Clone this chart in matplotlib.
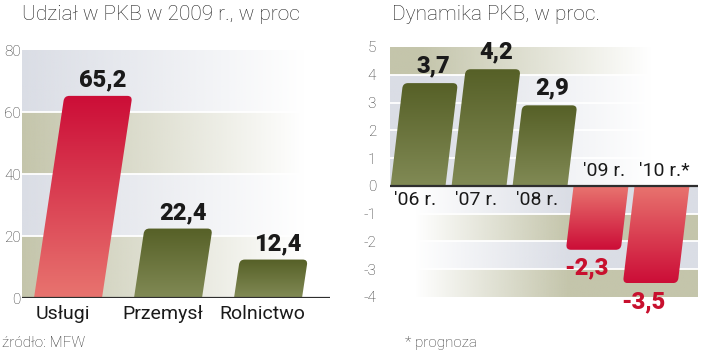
import numpy as np
import matplotlib
matplotlib.use('Agg')
import matplotlib.pyplot as plt
from matplotlib.path import Path
from matplotlib.patches import PathPatch
from matplotlib.transforms import Affine2D
from matplotlib.colors import to_rgb

# ---- data ----
left_title = 'Udział w PKB w 2009 r., w proc'
left_categories = ['Usługi', 'Przemysł', 'Rolnictwo']
left_values = [65.2, 22.4, 12.4]
left_labels = ['65,2', '22,4', '12,4']
left_yticks = [0, 20, 40, 60, 80]

right_title = 'Dynamika PKB, w proc.'
right_categories = ["'06 r.", "'07 r.", "'08 r.", "'09 r.", "'10 r.*"]
right_values = [3.7, 4.2, 2.9, -2.3, -3.5]
right_labels = ['3,7', '4,2', '2,9', '-2,3', '-3,5']
right_yticks = [-4, -3, -2, -1, 0, 1, 2, 3, 4, 5]

source_text = 'źródło: MFW'
note_text = '* prognoza'

# ---- style ----
plt.rcParams['font.family'] = ['Roboto', 'DejaVu Sans']
KHAKI = '#c4c5ab'
GRAY = '#dadde5'
RED_BASE, RED_TIP = '#e8746f', '#cc0d37'
GRN_BASE, GRN_TIP = '#818a55', '#566027'
TXT = '#1a1a1a'
RED_TXT = '#c8102e'

W, H = 720, 356
fig = plt.figure(figsize=(7.2, 3.56), dpi=100)
fig.patch.set_facecolor('white')

axL = fig.add_axes([22 / W, 58 / H, 308 / W, 248 / H])
axR = fig.add_axes([390 / W, 59 / H, 308 / W, 250 / H])


def setup(ax, xlim, ylim):
    ax.set_xlim(*xlim)
    ax.set_ylim(*ylim)
    ax.set_autoscale_on(False)
    for s in ax.spines.values():
        s.set_visible(False)
    ax.set_facecolor('none')


def band(ax, y0, y1, color, alpha_fn):
    xl = ax.get_xlim()
    t = np.linspace(0, 1, 300)
    rgba = np.zeros((1, 300, 4))
    rgba[..., :3] = to_rgb(color)
    rgba[..., 3] = np.clip(alpha_fn(t), 0, 1)
    ax.imshow(rgba, extent=(xl[0], xl[1], y0, y1), aspect='auto',
              interpolation='bilinear', zorder=0)


def slanted_bars(ax, xs, vals, width, slant, colors, radius_px=5):
    rects = ax.bar(xs, vals, width=width, color='none', edgecolor='none')
    x0d, y0d = ax.transData.transform((0, 0))
    ppx = ax.transData.transform((1, 0))[0] - x0d
    ppy = ax.transData.transform((0, 1))[1] - y0d
    skew = (Affine2D().translate(-x0d, -y0d)
            .skew(np.arctan(slant), 0).translate(x0d, y0d))
    trans = ax.transData + skew
    rx = radius_px / ppx
    ry = radius_px / ppy
    tips = []
    for r, (base, tip) in zip(rects, colors):
        x = r.get_x(); w = r.get_width(); h = r.get_height()
        s = np.sign(h)
        verts = [(x, 0), (x + w, 0), (x + w, h - s * ry), (x + w, h),
                 (x + w - rx, h), (x + rx, h), (x, h), (x, h - s * ry), (x, 0)]
        codes = [Path.MOVETO, Path.LINETO, Path.LINETO, Path.CURVE3,
                 Path.CURVE3, Path.LINETO, Path.CURVE3, Path.CURVE3,
                 Path.CLOSEPOLY]
        patch = PathPatch(Path(verts, codes), facecolor='none',
                          edgecolor='none', transform=trans, zorder=2)
        ax.add_patch(patch)
        n = 256
        t = np.linspace(0, 1, n)[:, None, None]
        img = np.array(to_rgb(base))[None, None, :] * (1 - t) + \
            np.array(to_rgb(tip))[None, None, :] * t
        shift = slant * abs(h) * ppy / ppx + 0.1
        im = ax.imshow(img, extent=(x - shift - 0.1, x + w + shift + 0.1, 0, h),
                       origin='lower', aspect='auto', interpolation='bilinear',
                       zorder=2)
        im.set_clip_path(patch)
        xtip = x + w / 2 + slant * h * ppy / ppx
        tips.append((xtip, h))
    return tips


# ---------------- left panel ----------------
setup(axL, (-0.46, 2.62), (0, 80))
band_cols_L = [KHAKI, GRAY, KHAKI, GRAY]
for i in range(4):
    band(axL, left_yticks[i], left_yticks[i + 1], band_cols_L[i],
         lambda t: 1.0 - t / 0.92)
for y in left_yticks[1:-1]:
    axL.axhline(y, color='white', lw=1.3, zorder=1)
xsL = np.arange(len(left_values))
colsL = [(RED_BASE, RED_TIP)] + [(GRN_BASE, GRN_TIP)] * 2
tipsL = slanted_bars(axL, xsL, left_values, 0.68, 0.15, colsL)
axL.axhline(0, color='#2e2e2e', lw=1.6, zorder=3)
for (xt, h), lab in zip(tipsL, left_labels):
    axL.annotate(lab, (xt, h), xytext=(3, 3), textcoords='offset points',
                 ha='center', va='bottom', fontsize=17, fontweight='black',
                 color=TXT, zorder=4)
for x, cat in zip(xsL, left_categories):
    axL.annotate(cat, (x, 0), xytext=(-4, -5), textcoords='offset points',
                 ha='center', va='top', fontsize=14, color=TXT)
axL.set_xticks([])
axL.set_yticks(left_yticks)
axL.set_yticklabels([str(v) for v in left_yticks], fontsize=11,
                    fontweight='light', color='#333333')
axL.tick_params(axis='y', length=0, pad=1)

# ---------------- right panel ----------------
setup(axR, (-0.46, 4.59), (-4, 5))
for lo in range(0, 5):
    col = KHAKI if lo == 4 else GRAY
    band(axR, lo, lo + 1, col, lambda t: 1.0 - (t - 0.1) / 0.75)
for lo in range(-4, 0):
    col = GRAY if lo in (-1, -3) else KHAKI
    band(axR, lo, lo + 1, col, lambda t: (t - 0.08) / 0.5)
for y in right_yticks:
    if y not in (0, 5, -4):
        axR.axhline(y, color='white', lw=1.3, zorder=1)
xsR = np.arange(len(right_values))
colsR = [(GRN_BASE, GRN_TIP) if v > 0 else (RED_BASE, RED_TIP)
         for v in right_values]
tipsR = slanted_bars(axR, xsR, right_values, 0.9, 0.12, colsR)
axR.axhline(0, color='#2e2e2e', lw=1.6, zorder=3)
for (xt, h), lab in zip(tipsR, right_labels):
    if h > 0:
        axR.annotate(lab, (xt, h), xytext=(2, 4), textcoords='offset points',
                     ha='center', va='bottom', fontsize=17,
                     fontweight='black', color=TXT, zorder=4)
    else:
        axR.annotate(lab, (xt, h), xytext=(-5, -5), textcoords='offset points',
                     ha='center', va='top', fontsize=17,
                     fontweight='black', color=RED_TXT, zorder=4)
for x, v, cat in zip(xsR, right_values, right_categories):
    if v > 0:
        axR.annotate(cat, (x, 0), xytext=(-2, -4), textcoords='offset points',
                     ha='center', va='top', fontsize=14, color=TXT, zorder=4)
    else:
        axR.annotate(cat, (x, 0), xytext=(2, 4), textcoords='offset points',
                     ha='center', va='bottom', fontsize=14, color=TXT, zorder=4)
axR.set_xticks([])
axR.set_yticks(right_yticks)
axR.set_yticklabels([str(v) for v in right_yticks], fontsize=11,
                    fontweight='light', color='#333333')
axR.tick_params(axis='y', length=0, pad=10)

# ---------------- texts ----------------
fig.text(22 / W, 1 - 5 / H, left_title, ha='left', va='top', fontsize=15,
         fontweight='light', color='#222222')
fig.text(392 / W, 1 - 5 / H, right_title, ha='left', va='top', fontsize=15,
         fontweight='light', color='#222222')
fig.text(2 / W, 1 - 343 / H, source_text, ha='left', va='center', fontsize=11,
         fontweight='light', color='#333333')
fig.text(405 / W, 1 - 343 / H, note_text, ha='left', va='center', fontsize=11,
         fontweight='light', color='#333333')

fig.savefig('out.png', dpi=100)
